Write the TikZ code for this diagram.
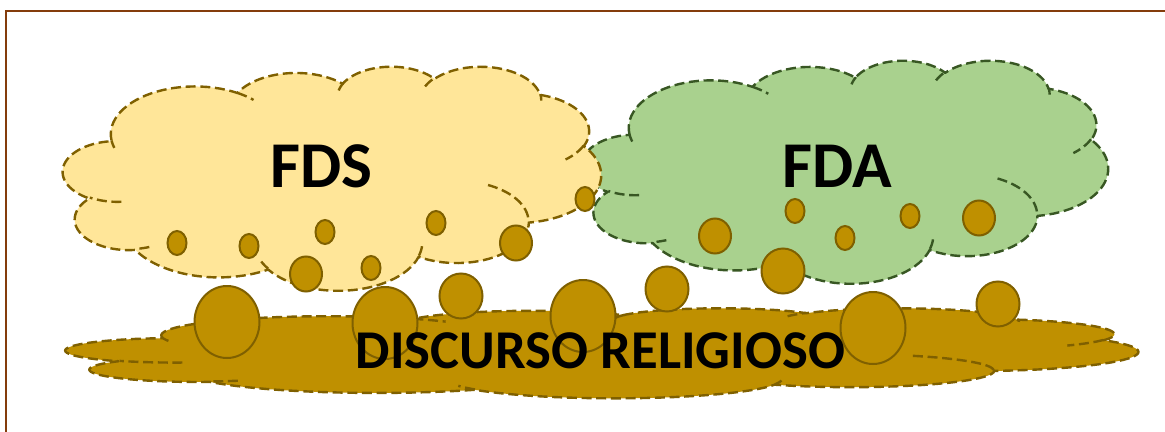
\documentclass[tikz,border=0pt]{standalone}
\usepackage{fontspec}
\setmainfont{Carlito}
\definecolor{yfill}{HTML}{FFE699}
\definecolor{gfill}{HTML}{A9D18E}
\definecolor{bfill}{HTML}{BF9000}
\definecolor{bline}{HTML}{7F6000}
\definecolor{gline}{HTML}{385723}
\definecolor{framec}{HTML}{843C0C}
% --- PowerPoint cloud geometry (43.2 x 43.2 unit box, y down) ---
\newcommand\CldStart[2]{\xdef\CldPath{\unexpanded\expandafter{\CldPath} (#1,#2)}\xdef\CPx{#1}\xdef\CPy{#2}}
\newcommand\CldArc[4]{%
  \pgfmathsetmacro\CtA{atan2(sin(#3)/#2, cos(#3)/#1)}%
  \pgfmathsetmacro\CtB{atan2(sin(#3+#4)/#2, cos(#3+#4)/#1)}%
  \pgfmathsetmacro\CtB{(\CtB<\CtA) ? \CtB+360 : \CtB}%
  \pgfmathsetmacro\Ccx{\CPx-#1*cos(\CtA)}%
  \pgfmathsetmacro\Ccy{\CPy-#2*sin(\CtA)}%
  \pgfmathsetmacro\Cex{\Ccx+#1*cos(\CtB)}%
  \pgfmathsetmacro\Cey{\Ccy+#2*sin(\CtB)}%
  \xdef\CldPath{\unexpanded\expandafter{\CldPath} -- plot[domain=\CtA:\CtB,samples=30] ({\Ccx+#1*cos(\noexpand\x)},{\Ccy+#2*sin(\noexpand\x)})}%
  \xdef\CPx{\Cex}\xdef\CPy{\Cey}}
\xdef\CldPath{}
\CldStart{3.900}{14.370}
\CldArc{6.753}{9.190}{-190.4875}{123.7805}
\CldArc{5.333}{7.267}{-144.1024}{89.9452}
\CldArc{4.365}{5.945}{-145.8079}{99.7230}
\CldArc{4.857}{6.595}{-130.9861}{117.2417}
\CldArc{5.333}{7.273}{-78.7089}{109.0269}
\CldArc{6.775}{9.220}{-46.2673}{130.2690}
\CldArc{5.785}{7.867}{0.6250}{114.0333}
\CldArc{6.752}{9.215}{22.4516}{115.1726}
\CldArc{7.720}{10.543}{66.2426}{75.7110}
\CldArc{4.360}{5.918}{-274.9421}{146.7356}
\CldArc{4.345}{5.945}{-246.8285}{152.5189}
\global\let\CldMain\CldPath
\xdef\CldPath{}
\CldStart{4.693}{26.177}\CldArc{4.345}{5.945}{86.7420}{26.4295}
\CldStart{6.928}{34.899}\CldArc{4.360}{5.918}{73.6105}{11.4475}
\CldStart{16.478}{39.090}\CldArc{6.752}{9.215}{137.6242}{14.0811}
\CldStart{28.827}{34.751}\CldArc{6.752}{9.215}{6.4533}{15.9984}
\CldStart{34.129}{22.954}\CldArc{5.785}{7.867}{-70.2924}{70.9174}
\CldStart{41.798}{15.354}\CldArc{5.333}{7.273}{30.3180}{27.7515}
\CldStart{38.324}{5.426}\CldArc{4.857}{6.595}{-13.7443}{14.8589}
\CldStart{29.078}{3.952}\CldArc{4.857}{6.595}{-149.1815}{18.1954}
\CldStart{22.141}{4.720}\CldArc{4.365}{5.945}{-163.4943}{17.6864}
\CldStart{14.000}{5.192}\CldArc{6.753}{9.190}{-66.7070}{12.3194}
\CldStart{4.127}{15.789}\CldArc{6.753}{9.190}{157.6544}{11.8582}
\global\let\CldInner\CldPath
\newcommand\blob[4]{\draw[blobst] (#1,#2) ellipse [x radius=#3, y radius=#4];}
\begin{document}
\begin{tikzpicture}[x=0.75pt,y=-0.75pt,
  cloudline/.style={line width=1.8pt, dash pattern=on 7.5pt off 3.5pt, line join=round},
  blobst/.style={fill=bfill, draw=bline, line width=1.5pt},
  big/.style={font=\fontsize{49}{49}\selectfont\bfseries, inner sep=0pt, text=black},
  mid/.style={font=\fontsize{41}{41}\selectfont\bfseries, inner sep=0pt, text=black}]
\useasboundingbox (0,0) rectangle (1165,432);
\fill[white] (0,0) rectangle (1165,432);
\draw[framec, line width=1.8pt] (6,440) -- (6,11) -- (1170,11);
% green cloud
\begin{scope}[shift={(582,60)},x=9.1319pt,y=-3.8715pt]
  \draw[cloudline, fill=gfill, draw=gline] \CldMain -- cycle;
  \draw[cloudline, draw=gline] \CldInner;
\end{scope}
% yellow cloud
\begin{scope}[shift={(63,66)},x=9.3403pt,y=-3.8889pt]
  \draw[cloudline, fill=yfill, draw=bline] \CldMain -- cycle;
  \draw[cloudline, draw=bline] \CldInner;
\end{scope}
% brown cloud
\begin{scope}[shift={(66,308)},x=18.6111pt,y=-1.5625pt]
  \draw[cloudline, fill=bfill, draw=bline] \CldMain -- cycle;
  \draw[cloudline, draw=bline] \CldInner;
\end{scope}
% small blobs
\blob{177}{243}{7.125pt}{9pt}
\blob{249}{246}{7.125pt}{9pt}
\blob{325}{232}{7.125pt}{9pt}
\blob{436}{223}{7.125pt}{9pt}
\blob{371}{268}{7.125pt}{9pt}
\blob{585}{199}{7.125pt}{9pt}
\blob{795}{211}{7.125pt}{9pt}
\blob{910}{216}{7.125pt}{9pt}
\blob{845}{238}{7.125pt}{9pt}
% medium blobs
\blob{306}{274}{12pt}{13.125pt}
\blob{516}{243}{12pt}{13.125pt}
\blob{715}{236}{12pt}{13.125pt}
\blob{979}{218}{12pt}{13.125pt}
% larger blobs
\blob{783}{271}{16.125pt}{16.875pt}
\blob{461}{296}{16.125pt}{16.875pt}
\blob{667}{289}{16.125pt}{16.875pt}
\blob{998}{304}{16.125pt}{16.875pt}
% big blobs
\blob{227}{322}{24.375pt}{27pt}
\blob{385}{323}{24.375pt}{27pt}
\blob{583}{316}{24.375pt}{27pt}
\blob{873}{328}{24.375pt}{27pt}
% texts
\node[big] (fds) at (321.5,166) {FDS};
\node[big] (fda) at (837.5,166) {FDA};
\node[mid] (dr) at (600.5,351) {DISCURSO RELIGIOSO};
\end{tikzpicture}
\end{document}
